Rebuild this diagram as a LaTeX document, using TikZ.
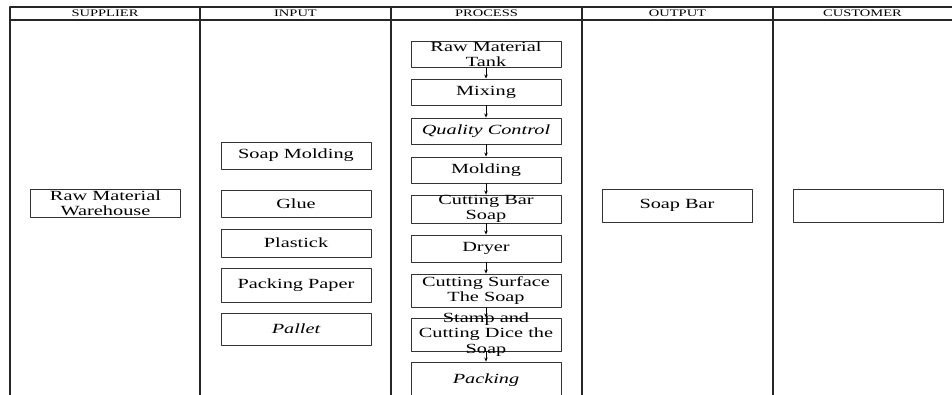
\documentclass[tikz,border=0pt]{standalone}
\usepackage{fontspec}
\setmainfont{Liberation Serif}[FakeStretch=1.45]
\usetikzlibrary{arrows.meta}

\tikzset{
  gridline/.style={line width=1.3pt, black!85},
  head/.style={font=\fontsize{10}{12}\selectfont, inner sep=0pt},
  stepbox/.style={draw=black!80, line width=0.9pt, minimum width=150pt,
                  inner sep=0pt, font=\fontsize{14}{15}\selectfont},
  multi/.style={align=center, inner sep=0pt, font=\fontsize{14}{15.5}\selectfont},
  flow/.style={-{Stealth[length=4pt,width=3.5pt]}, line width=0.7pt},
}

\begin{document}
\begin{tikzpicture}[x=1pt, y=-1pt, line cap=round, line join=round]

% -----------------------
% Page frame
% -----------------------
\clip (0,0) rectangle (952,394);

% -----------------------
% Table lines
% -----------------------
\def\top{7}       % top of header row
\def\hbot{20}     % bottom of header row
\draw[gridline] (952,\top) -- (10,\top) -- (10,400);
\draw[gridline] (10,\hbot) -- (952,\hbot);
\foreach \x in {200,391,582,773}{
  \draw[gridline] (\x,\top) -- (\x,400);
}

% -----------------------
% Column headings
% -----------------------
\node[head] (hsup)  at (105,13.5)   {SUPPLIER};
\node[head] (hin)   at (295.5,13.5) {INPUT};
\node[head] (hproc) at (486.5,13.5) {PROCESS};
\node[head] (hout)  at (677.5,13.5) {OUTPUT};
\node[head] (hcust) at (862.5,13.5) {CUSTOMER};

% -----------------------
% Supplier
% -----------------------
\node[stepbox, minimum height=28pt,
      label={[multi]center:{Raw Material\\Warehouse}}] (ware) at (105.5,203) {};

% -----------------------
% Inputs
% -----------------------
\node[stepbox, minimum height=27pt] (mould) at (296,155.5) {Soap Molding};
\node[stepbox, minimum height=27pt] (glue)  at (296,203.5) {Glue};
\node[stepbox, minimum height=28pt] (plast) at (296,243)   {Plastick};
\node[stepbox, minimum height=34pt] (paper) at (296,285)   {Packing Paper};
\node[stepbox, minimum height=32pt] (pall)  at (296,329)   {\itshape Pallet};

% -----------------------
% Process steps
% -----------------------
\node[stepbox, minimum height=26pt,
      label={[multi]center:{Raw Material\\Tank}}] (tank) at (486,54) {};
\node[stepbox, minimum height=26pt] (mix)  at (486,92)  {Mixing};
\node[stepbox, minimum height=26pt] (qc)   at (486,131) {\itshape Quality Control};
\node[stepbox, minimum height=26pt] (mold) at (486,170) {Molding};
\node[stepbox, minimum height=28pt,
      label={[multi]center:{Cutting Bar\\Soap}}] (cbar) at (486,209) {};
\node[stepbox, minimum height=27pt] (dry)  at (486,248.5) {Dryer};
\node[stepbox, minimum height=33pt,
      label={[multi]center:{Cutting Surface\\The Soap}}] (csurf) at (486,290.5) {};
\node[stepbox, minimum height=33pt,
      label={[multi]center:{Stamp and\\Cutting Dice the\\Soap}}] (stamp) at (486,334.5) {};
\node[stepbox, minimum height=36pt] (pack) at (486,380) {\itshape Packing};

\foreach \a/\b in {tank/mix, mix/qc, qc/mold, mold/cbar, cbar/dry,
                   dry/csurf, csurf/stamp, stamp/pack}{
  \draw[flow] (\a.south) -- (\b.north);
}

% -----------------------
% Output and customer
% -----------------------
\node[stepbox, minimum height=33pt] (bar)  at (677,205.5) {Soap Bar};
\node[stepbox, minimum height=33pt] (cust) at (868,205.5) {};

\end{tikzpicture}
\end{document}
